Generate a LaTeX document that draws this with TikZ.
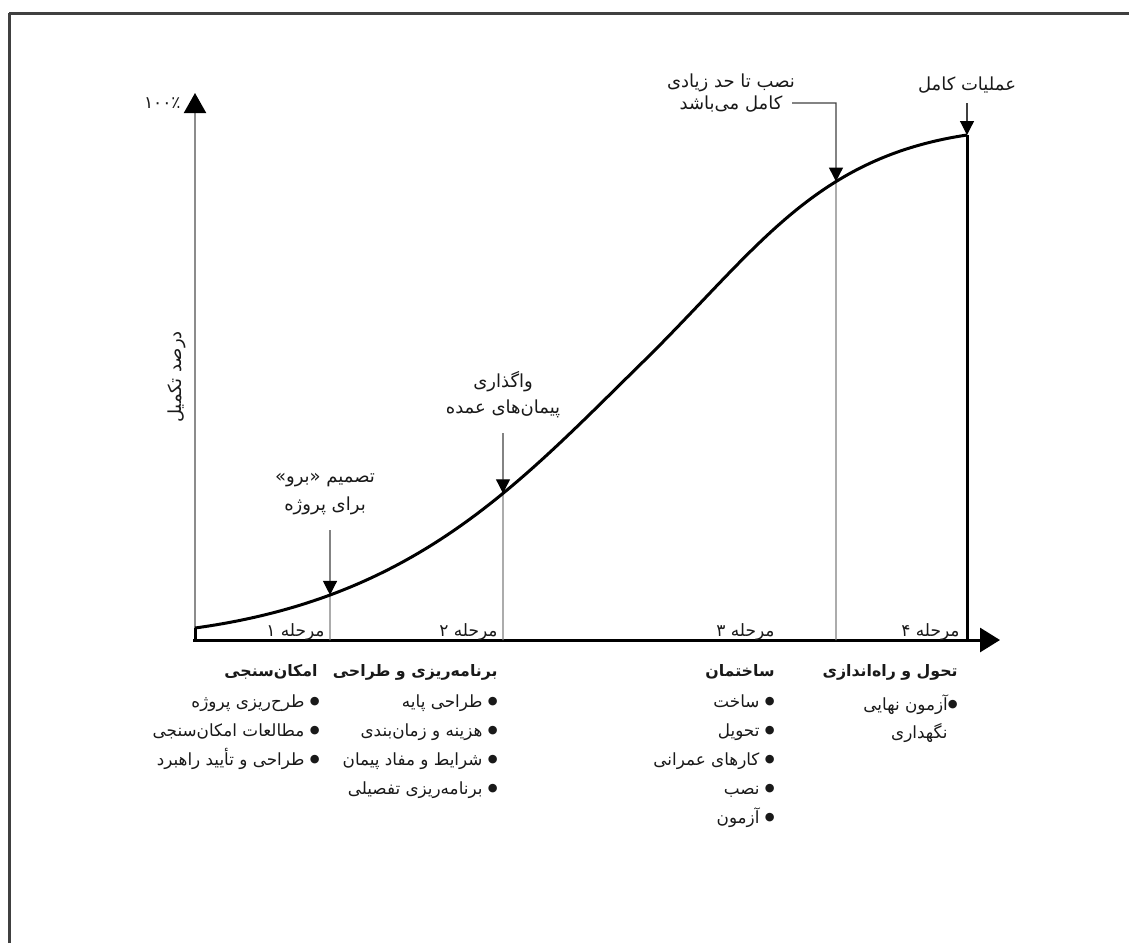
\documentclass[tikz,border=0pt]{standalone}
\usepackage{fontspec}
\usetikzlibrary{arrows.meta,intersections}
\newfontfamily\fa[Script=Arabic]{DejaVu Sans}
\newcommand\blt{\raisebox{0.25ex}{\fontsize{5.6}{5}\selectfont ●}}
\TeXXeTstate=1
\begin{document}
\begin{tikzpicture}[x=0.5pt,y=-0.5pt,
 every node/.style={inner sep=0pt, text=black!90},
 txt/.style={font=\fa\fontsize{9}{14}\selectfont, align=center},
 phase/.style={font=\fa\fontsize{8.5}{10}\selectfont, anchor=east},
 hdr/.style={font=\fa\bfseries\fontsize{7.9}{10}\selectfont, anchor=east},
 items/.style={font=\fa\fontsize{8.4}{14.5}\selectfont, anchor=north east, align=right},
 guide/.style={draw=black!50, line width=0.6pt},
 pointer/.style={draw=black!75, line width=0.6pt, -{Triangle[length=7pt,width=7pt,color=black]}},
 curveline/.style={line width=1.5pt, black},
 frame/.style={draw=black!75, line width=1.5pt},
]
\useasboundingbox (0,0) rectangle (1129,943);
\coordinate (fbl) at (9,943);
\coordinate (ftl) at (9,13);
\coordinate (ftr) at (1129,13);
\draw[frame] (fbl) -- (ftl);
\draw[frame] (ftl) -- (ftr);

% key coordinates
\coordinate (o) at (195,640);
\coordinate (ytop) at (195,93);
\coordinate (xend) at (1000,640);
\coordinate (c0) at (195,628);
\coordinate (inf) at (650,355);
\coordinate (c4) at (967,135);
\coordinate (b1) at (330,640);
\coordinate (b2) at (503,640);
\coordinate (b3) at (836,640);
\coordinate (b4) at (967,640);
\coordinate (p1) at (330,530);
\coordinate (p2) at (503,433);
\coordinate (p3a) at (792,103);
\coordinate (p3b) at (836,103);
\coordinate (p4) at (967,103);

% curve and its crossings with the phase lines
\path[name path=curve] (c0) .. controls (420,597) and (520,482) .. (inf) .. controls (760,245) and (817,157.5) .. (c4);
\path[name path=v1] (330,0) -- (b1);
\path[name path=v2] (503,0) -- (b2);
\path[name path=v3] (836,0) -- (b3);
\path[name intersections={of=curve and v1, by=c1}];
\path[name intersections={of=curve and v2, by=c2}];
\path[name intersections={of=curve and v3, by=c3}];

% axes
\draw[draw=black!45, line width=1pt, -{Triangle[length=10pt,width=11pt,color=black]}] (o) -- (ytop);
\draw[line width=1.5pt, -{Triangle[length=10pt,width=12pt]}] (193,640) -- (xend);

% guide lines
\draw[guide] (c1) -- (b1);
\draw[guide] (c2) -- (b2);
\draw[guide] (c3) -- (b3);
\draw[curveline] (c4) -- (b4);
\draw[curveline] (c0) -- (o);

% curve
\draw[curveline] (c0) .. controls (420,597) and (520,482) .. (inf) .. controls (760,245) and (817,157.5) .. (c4);

% pointers
\draw[pointer] (p1) -- (c1);
\draw[pointer] (p2) -- (c2);
\draw[pointer] (p3a) -- (p3b) -- (c3);
\draw[pointer] (p4) -- (c4);

% labels
\node[font=\fa\fontsize{8.5}{10}\selectfont, anchor=east] (hund) at (181,103) {۱۰۰٪};
\node[font=\fa\fontsize{9}{11}\selectfont, rotate=90] (ylab) at (177,377) {\beginR درصد تکمیل\endR};
\node[txt] (full) at (967,85) {\beginR عملیات کامل\endR};
\node[txt, font=\fa\fontsize{9}{11}\selectfont] (inst) at (731,93) {\beginR نصب تا حد زیادی\endR\\\beginR کامل می‌باشد\endR};
\node[txt, font=\fa\fontsize{9}{13}\selectfont] (award) at (503,395) {\beginR واگذاری\endR\\\beginR پیمان‌های عمده\endR};
\node[txt, font=\fa\fontsize{9}{14}\selectfont] (go) at (325,494) {\beginR تصمیم «برو»\endR\\\beginR برای پروژه\endR};

\node[phase] (ph1) at (325,632) {\beginR مرحله ۱\endR};
\node[phase] (ph2) at (498,632) {\beginR مرحله ۲\endR};
\node[phase] (ph3) at (775,632) {\beginR مرحله ۳\endR};
\node[phase] (ph4) at (960,632) {\beginR مرحله ۴\endR};

\node[hdr] (h1) at (318,672) {\beginR امکان‌سنجی\endR};
\node[hdr] (h2) at (498,672) {\beginR برنامه‌ریزی و طراحی\endR};
\node[hdr] (h3) at (775,672) {\beginR ساختمان\endR};
\node[hdr] (h4) at (958,672) {\beginR تحول و راه‌اندازی\endR};

\node[items] (l1) at (320,694) {\beginR\blt{} طرح‌ریزی پروژه\endR\\\beginR\blt{} مطالعات امکان‌سنجی\endR\\\beginR\blt{} طراحی و تأیید راهبرد\endR};
\node[items] (l2) at (498,694) {\beginR\blt{} طراحی پایه\endR\\\beginR\blt{} هزینه و زمان‌بندی\endR\\\beginR\blt{} شرایط و مفاد پیمان\endR\\\beginR\blt{} برنامه‌ریزی تفصیلی\endR};
\node[items] (l3) at (775,694) {\beginR\blt{} ساخت\endR\\\beginR\blt{} تحویل\endR\\\beginR\blt{} کارهای عمرانی\endR\\\beginR\blt{} نصب\endR\\\beginR\blt{} آزمون\endR};
\node[items] (l4a) at (958,694) {\beginR\blt آزمون نهایی\endR};
\node[items] (l4b) at (948,723) {\beginR نگهداری\endR};
\end{tikzpicture}
\end{document}
